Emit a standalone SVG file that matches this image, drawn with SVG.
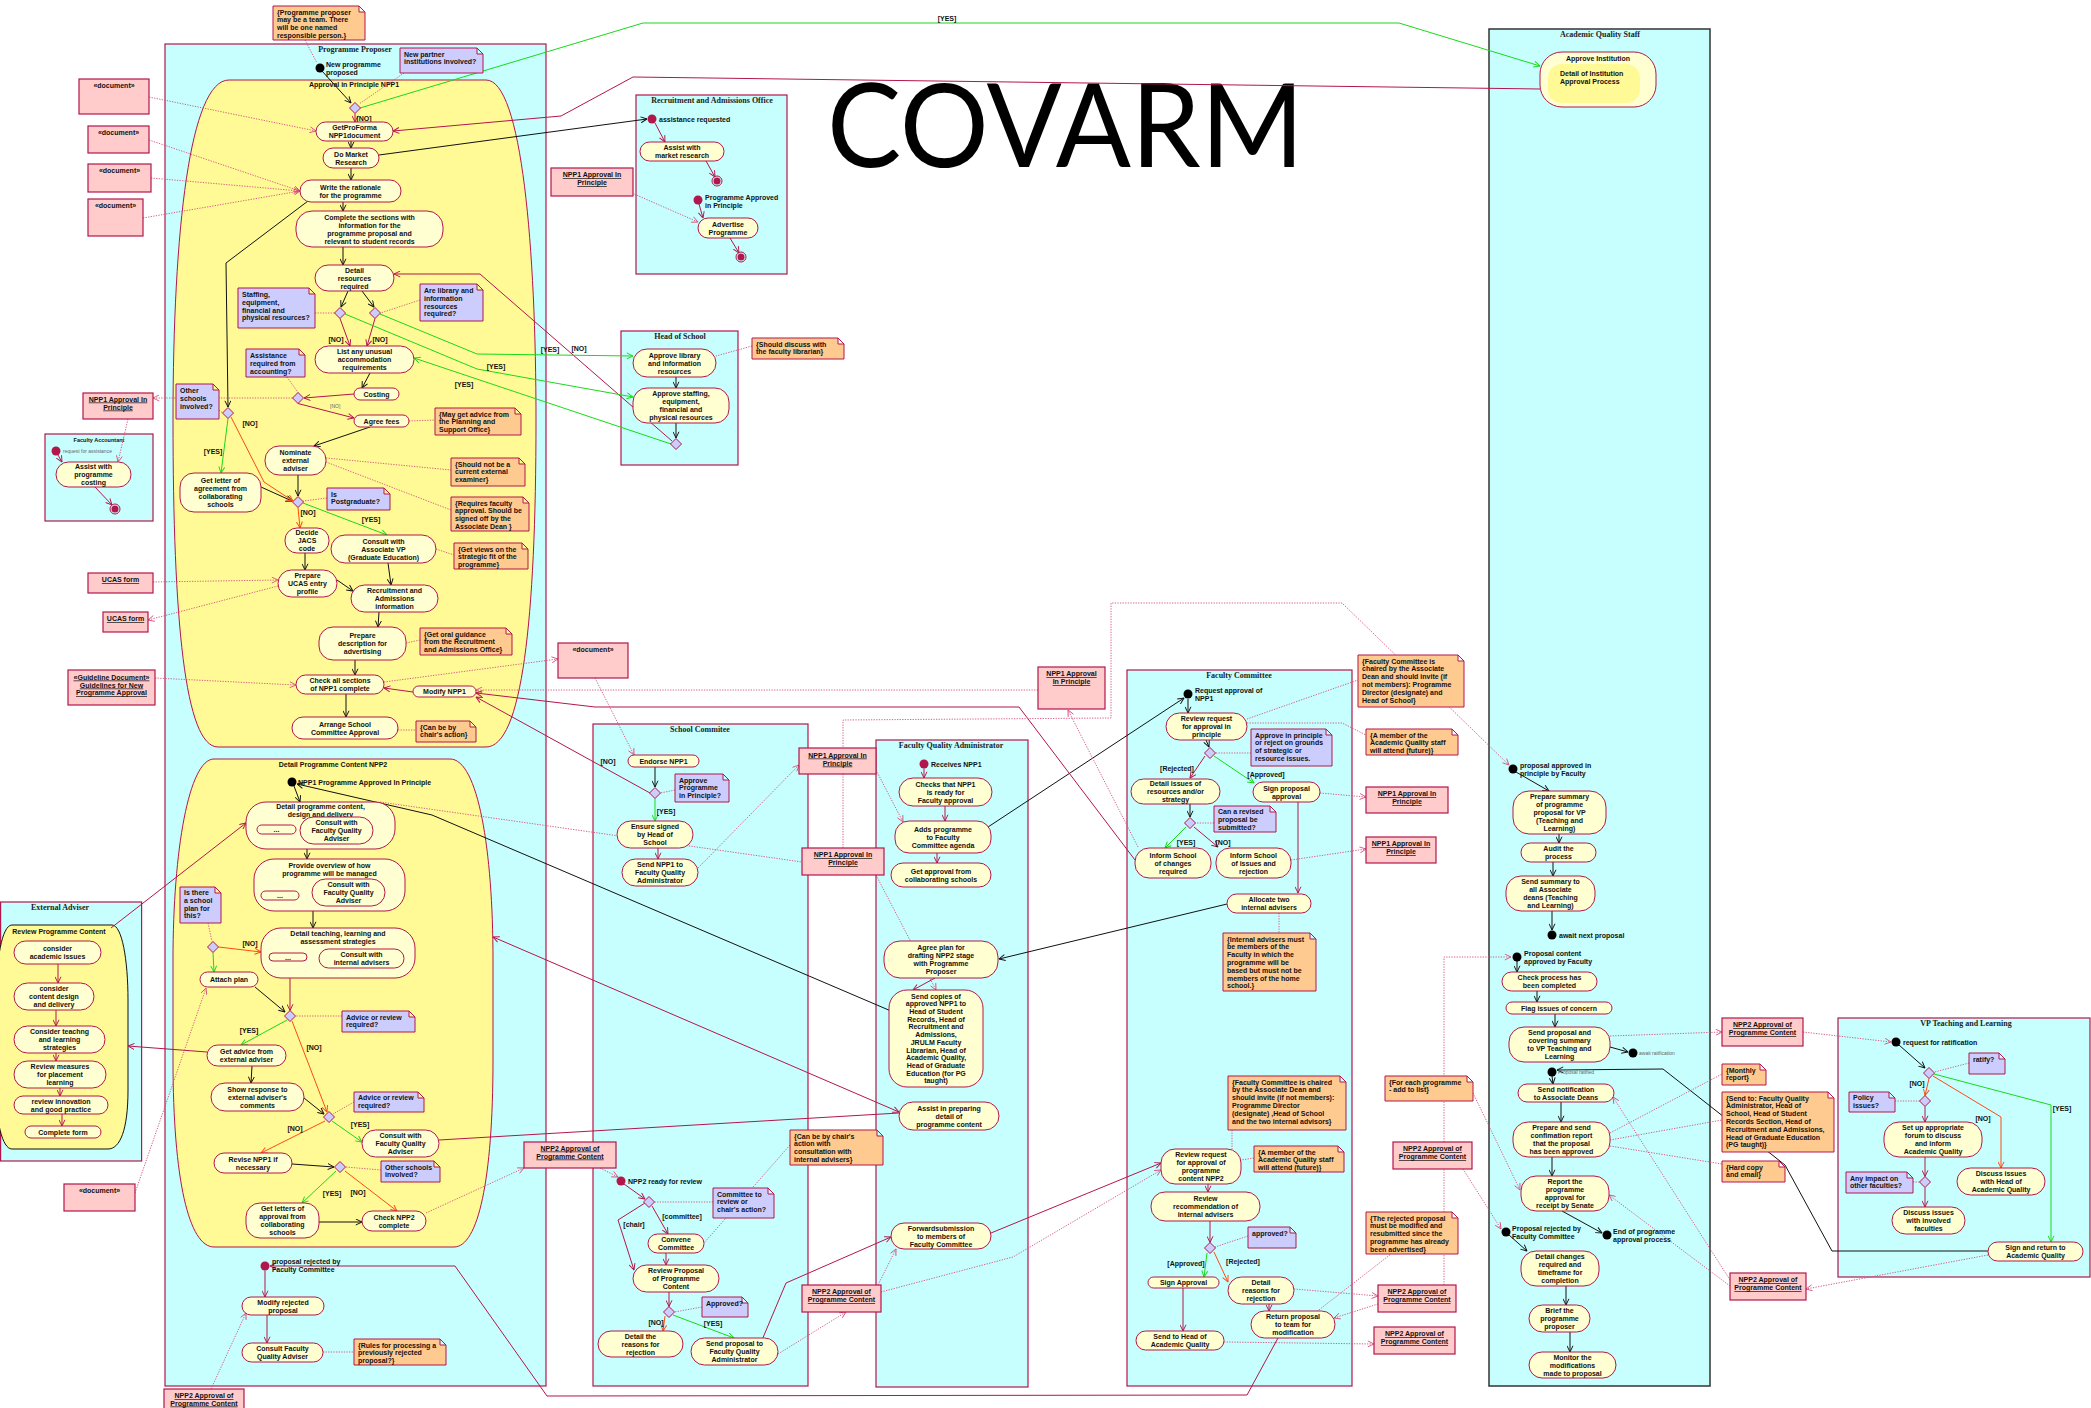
<svg xmlns="http://www.w3.org/2000/svg" width="2091" height="1408" viewBox="0 0 2091 1408">
<defs>
<style>
.lane{fill:#c6fffe;stroke:#b3164b;stroke-width:1.2}
.aqs{fill:#c6fffe;stroke:#333;stroke-width:1.5}
.a{fill:#ffffd2;stroke:#b3164b;stroke-width:1}
.reg{fill:#fffa96;stroke:#b3164b;stroke-width:1}
.no{fill:#ffca90;stroke:#b3164b;stroke-width:1}
.np{fill:#cdcdfd;stroke:#b3164b;stroke-width:1}
.ob{fill:#ffcbcb;stroke:#b3164b;stroke-width:1.2}
.t{font-family:"Liberation Sans",Arial,sans-serif;font-weight:bold;font-size:7px;fill:#111;text-anchor:middle}
.tl{font-family:"Liberation Sans",Arial,sans-serif;font-weight:bold;font-size:7px;fill:#111;text-anchor:start}
.u{text-decoration:underline}
.lt{font-family:"Liberation Serif","Times New Roman",serif;font-weight:bold;font-size:8px;fill:#222;text-anchor:middle}
.sm{font-family:"Liberation Sans",Arial,sans-serif;font-size:5px;fill:#666}
.ln{fill:none;stroke-width:1}
.k{stroke:#111;marker-end:url(#mk)}
.r{stroke:#b3164b;marker-end:url(#mr)}
.g{stroke:#19d919;marker-end:url(#mg)}
.o{stroke:#ff4a12;marker-end:url(#mo)}
.d{stroke:#d4507c;stroke-dasharray:1.3 1.3;stroke-width:0.9;marker-end:url(#md)}
.nm{marker-end:none}
.ini{fill:#000}
.inr{fill:#b3164b}
</style>
<marker id="mk" viewBox="0 0 8 8" refX="7.6" refY="4" markerWidth="7" markerHeight="7" markerUnits="userSpaceOnUse" orient="auto-start-reverse"><path d="M0.5,0.6L7.6,4L0.5,7.4" fill="none" stroke="#111" stroke-width="1.1"/></marker>
<marker id="mr" viewBox="0 0 8 8" refX="7.6" refY="4" markerWidth="7" markerHeight="7" markerUnits="userSpaceOnUse" orient="auto-start-reverse"><path d="M0.5,0.6L7.6,4L0.5,7.4" fill="none" stroke="#b3164b" stroke-width="1.1"/></marker>
<marker id="mg" viewBox="0 0 8 8" refX="7.6" refY="4" markerWidth="7" markerHeight="7" markerUnits="userSpaceOnUse" orient="auto-start-reverse"><path d="M0.5,0.6L7.6,4L0.5,7.4" fill="none" stroke="#19d919" stroke-width="1.1"/></marker>
<marker id="mo" viewBox="0 0 8 8" refX="7.6" refY="4" markerWidth="7" markerHeight="7" markerUnits="userSpaceOnUse" orient="auto-start-reverse"><path d="M0.5,0.6L7.6,4L0.5,7.4" fill="none" stroke="#ff4a12" stroke-width="1.1"/></marker>
<marker id="md" viewBox="0 0 8 8" refX="7.6" refY="4" markerWidth="7" markerHeight="7" markerUnits="userSpaceOnUse" orient="auto-start-reverse"><path d="M0.5,0.6L7.6,4L0.5,7.4" fill="none" stroke="#d4507c" stroke-width="1"/></marker>
<path id="dia" d="M0,-5.5L5.5,0L0,5.5L-5.5,0Z" fill="#cdcdfd" stroke="#b3164b" stroke-width="1"/>
<g id="fin"><circle r="5" fill="none" stroke="#b3164b" stroke-width="1"/><circle r="3.5" fill="#b3164b"/></g>
</defs>
<rect width="2091" height="1408" fill="#fff"/>

<g id="lanes">
<rect class="lane" x="165" y="44" width="381" height="1342"/>
<text class="lt" x="355" y="52">Programme Proposer</text>
<path class="reg" d="M229,80H486C522,80 536,250 536,420C536,620 522,747 486,747H218C185,747 173,620 173,420C173,230 190,80 229,80Z"/>
<text class="t" x="354" y="86.5">Approval in Principle NPP1</text>
<path class="reg" d="M214,759H450C478,759 493,850 493,960V1060C493,1180 478,1247 454,1247H214C189,1247 173,1180 173,1060V960C173,850 189,759 214,759Z"/>
<text class="t" x="333" y="766.5">Detail Programme Content NPP2</text>
<rect class="lane" x="45" y="434" width="108" height="87"/>
<text class="t" x="99" y="442" style="font-size:5.5px">Faculty Accountant</text>
<rect class="lane" x="636" y="95" width="151" height="179"/>
<text class="lt" x="712" y="103">Recruitment and Admissions Office</text>
<rect class="lane" x="621" y="331" width="117" height="134"/>
<text class="lt" x="680" y="339">Head of School</text>
<rect class="aqs" x="1489" y="29" width="221" height="1357"/>
<text class="lt" x="1600" y="37">Academic Quality Staff</text>
<rect class="lane" x="0.6" y="902" width="141" height="259"/>
<text class="lt" x="60" y="910">External Adviser</text>
<path d="M12,925H112C122,925 128,960 128,1000V1090C128,1130 120,1149 108,1149H12C2,1149 -4,1120 -4,1090V1000C-4,960 2,925 12,925Z" fill="#fffa96" stroke="#111" stroke-width="1"/>
<text class="t" x="59" y="934">Review Programme Content</text>
<rect class="lane" x="593" y="724" width="215" height="662"/>
<text class="lt" x="700" y="732">School Commitee</text>
<rect class="lane" x="876" y="740" width="152" height="647"/>
<text class="lt" x="951" y="748">Faculty Quality Administrator</text>
<rect class="lane" x="1127" y="670" width="225" height="716"/>
<text class="lt" x="1239" y="678">Faculty Committee</text>
<rect class="lane" x="1838" y="1018" width="252" height="259"/>
<text class="lt" x="1966" y="1026">VP Teaching and Learning</text>
</g>

<text x="827" y="167" font-family="Lato,'Open Sans','DejaVu Sans',sans-serif" font-size="117" textLength="477" lengthAdjust="spacingAndGlyphs" fill="#000">COVARM</text>

<g id="connectors">
<path class="ln k" d="M322,71L351,103"/>
<path class="ln k" d="M351,141L351,148"/>
<path class="ln k" d="M379,155L647,119"/>
<path class="ln k" d="M351,168L351,180"/>
<path class="ln k" d="M343,202L343,211"/>
<path class="ln k" d="M343,247L343,265"/>
<path class="ln k" d="M348,291L341,307"/>
<path class="ln k" d="M362,291L374,307"/>
<path class="ln k" d="M370,373L362,388"/>
<path class="ln k" d="M308,201L226,263L228,407"/>
<path class="ln k" d="M370,427L314,446"/>
<path class="ln k" d="M298,475L298,496"/>
<path class="ln k" d="M261,487L292,501"/>
<path class="ln k" d="M305,553L305,570"/>
<path class="ln k" d="M388,563L391,585"/>
<path class="ln k" d="M337,580L353,591"/>
<path class="ln k" d="M379,612L378,627"/>
<path class="ln k" d="M355,660L355,675"/>
<path class="ln k" d="M346,694L346,717"/>
<path class="ln k" d="M676,377L676,388"/>
<path class="ln k" d="M676,423L676,438"/>
<path class="ln k" d="M655,767L655,787"/>
<path class="ln k" d="M988,827L1184,698"/>
<path class="ln k" d="M1227,904L999,959"/>
<path class="ln k" d="M891,1011L432,815L297,784"/>
<path class="ln k" d="M1188,699L1188,713"/>
<path class="ln k" d="M1206,740L1209,747"/>
<path class="ln k" d="M1190,804L1190,817"/>
<path class="ln k" d="M294,786L300,802"/>
<path class="ln k" d="M307,849L307,859"/>
<path class="ln k" d="M313,911L313,928"/>
<path class="ln k" d="M255,987L285,1012"/>
<path class="ln k" d="M252,1066L251,1083"/>
<path class="ln k" d="M304,1098L324,1114"/>
<path class="ln k" d="M292,1164L334,1167"/>
<path class="ln k" d="M319,1222L362,1222"/>
<path class="ln k" d="M1516,772L1549,791"/>
<path class="ln k" d="M1559,834L1559,843"/>
<path class="ln k" d="M1553,862L1553,876"/>
<path class="ln k" d="M1552,911L1552,930"/>
<path class="ln k" d="M1517,961L1517,972"/>
<path class="ln k" d="M1537,991L1537,1002"/>
<path class="ln k" d="M1555,1014L1555,1027"/>
<path class="ln k" d="M1610,1047L1628,1052"/>
<path class="ln k" d="M1552,1076L1553,1084"/>
<path class="ln k" d="M1561,1102L1561,1122"/>
<path class="ln k" d="M1552,1157L1552,1176"/>
<path class="ln k" d="M1562,1211L1602,1233"/>
<path class="ln k" d="M1509,1235L1527,1251"/>
<path class="ln k" d="M1566,1286L1566,1305"/>
<path class="ln k" d="M1570,1332L1570,1352"/>
<path class="ln k" d="M1899,1045L1925,1068"/>
<path class="ln k" d="M1988,1251L1832,1251L1785,1165L1663,1069L1557,1070"/>

<path class="ln r" d="M355,113.5L355,122"/>
<path class="ln r" d="M1540,89L633,77L561,116L393,131"/>
<path class="ln r" d="M340,318.5L350,346"/>
<path class="ln r" d="M375,318.5L367,346"/>
<path class="ln r" d="M672,441L480,274L394,274"/>
<path class="ln r" d="M354,394L304,398"/>
<path class="ln r" d="M298,403.5L354,418"/>
<path class="ln r" d="M1135,860L1019,707L595,707L476,693"/>
<path class="ln r" d="M650,793L476,697"/>
<path class="ln r" d="M413,692L384,688"/>
<path class="ln r" d="M58,455L62,462"/>
<path class="ln r" d="M95,487L112,505"/>
<path class="ln r" d="M655,123L665,142"/>
<path class="ln r" d="M706,161L715,177"/>
<path class="ln r" d="M699,204L703,218"/>
<path class="ln r" d="M730,238L739,253"/>
<path class="ln r" d="M658,848L658,859"/>
<path class="ln r" d="M624,1184L645,1199"/>
<path class="ln r" d="M652,1206L668,1234"/>
<path class="ln r" d="M645,1203L618,1220L634,1270"/>
<path class="ln r" d="M666,1253L666,1265"/>
<path class="ln r" d="M669,1292L669,1306.5"/>
<path class="ln r" d="M762,1340L786,1283L891,1237"/>
<path class="ln r" d="M991,1233L1161,1163"/>
<path class="ln r" d="M924,768.5L924,778"/>
<path class="ln r" d="M945,806L945,821"/>
<path class="ln r" d="M937,853L937,863"/>
<path class="ln r" d="M935,978L913,990"/>
<path class="ln r nm" d="M899,1113L439,1140"/>
<path class="ln r" style="marker-start:url(#mr)" d="M493,937L899,1112"/>
<path class="ln r" d="M1205,756L1190,778"/>
<path class="ln r" d="M1194,827L1218,847"/>
<path class="ln r" d="M1298,802L1298,893"/>
<path class="ln r" d="M1208,1184L1208,1192"/>
<path class="ln r" d="M1210,1221L1210,1242.5"/>
<path class="ln r" d="M1183,1288L1183,1331"/>
<path class="ln r" d="M1269,1304L1269,1311"/>
<path class="ln r" d="M1278,1338L1247,1395L547,1396L455,1266L270,1266"/>
<path class="ln r" d="M207,1052L128,1046"/>
<path class="ln r" d="M290,978L290,1010.5"/>
<path class="ln r" d="M111,928L246,823"/>
<path class="ln r" d="M265,1270.5L265,1297"/>
<path class="ln r" d="M267,1315L267,1343"/>
<path class="ln r" d="M58,964L58,983"/>
<path class="ln r" d="M56,1010L56,1026"/>
<path class="ln r" d="M56,1053L56,1061"/>
<path class="ln r" d="M60,1088L60,1096"/>
<path class="ln r" d="M62,1114L62,1126"/>
<path class="ln r" d="M1925,1106.5L1925,1122"/>
<path class="ln r" d="M1925,1157L1925,1176.5"/>
<path class="ln r" d="M1925,1187.5L1925,1207"/>

<path class="ln g" d="M360,108L643,23L1399,23L1540,66"/>
<path class="ln g" d="M380,314L477,354L633,356"/>
<path class="ln g" d="M345,314L477,369L633,397"/>
<path class="ln g" d="M671,444L414,358"/>
<path class="ln g" d="M228,418.5L221,473"/>
<path class="ln g" d="M303,503L387,535"/>
<path class="ln g" d="M655,798.5L655,821"/>
<path class="ln g" d="M673,1315L734,1338"/>
<path class="ln g" d="M1214,756L1254,783"/>
<path class="ln g" d="M1186,827L1165,848"/>
<path class="ln g" d="M1207,1253L1204,1277"/>
<path class="ln g" d="M213,952.5L214,972"/>
<path class="ln g" d="M287,1020L241,1045"/>
<path class="ln g" d="M332,1121L362,1142"/>
<path class="ln g" d="M336,1171L302,1203"/>
<path class="ln g" d="M1934,1074L2051,1105L2051,1242"/>

<path class="ln o" d="M231,417L264,482L293,501"/>
<path class="ln o" d="M298,507.5L300,528"/>
<path class="ln o" d="M218.5,947L261,952"/>
<path class="ln o" d="M292,1021L327,1112"/>
<path class="ln o" d="M325,1121L261,1153"/>
<path class="ln o" d="M345,1171L397,1211"/>
<path class="ln o" d="M665,1316L663,1331"/>
<path class="ln o" d="M1214,1252L1228,1282"/>
<path class="ln o" d="M1929,1078.5L1925,1095.5"/>
<path class="ln o" d="M1933,1076L2001,1117L2001,1168"/>

<path class="ln d" d="M149,97L316,131"/>
<path class="ln d" d="M149,140L300,191"/>
<path class="ln d" d="M151,178L300,191"/>
<path class="ln d" d="M143,218L300,191"/>
<path class="ln d nm" d="M305,40L317,63"/>
<path class="ln d nm" d="M404,73L359,104"/>
<path class="ln d nm" d="M315,313L334.5,313"/>
<path class="ln d nm" d="M420,300L380.5,313"/>
<path class="ln d nm" d="M287,377L298,392.5"/>
<path class="ln d" d="M292.5,398L153,398"/>
<path class="ln d" d="M128,419L118,462"/>
<path class="ln d nm" d="M219,410L222.5,413"/>
<path class="ln d nm" d="M409,421L435,420"/>
<path class="ln d nm" d="M326,458L451,470"/>
<path class="ln d nm" d="M326,462L451,510"/>
<path class="ln d nm" d="M327,498L303,501"/>
<path class="ln d nm" d="M436,549L454,555"/>
<path class="ln d" d="M153,582L278,580"/>
<path class="ln d" d="M278,586L148,620"/>
<path class="ln d" d="M155,678L296,685"/>
<path class="ln d" d="M384,682L558,659"/>
<path class="ln d" d="M1038,690L476,690"/>
<path class="ln d nm" d="M406,643L420,640"/>
<path class="ln d nm" d="M398,730L416,730"/>
<path class="ln d" d="M625,190L698,222"/>
<path class="ln d nm" d="M752,346L716,356"/>
<path class="ln d" d="M595,678L634,755"/>
<path class="ln d nm" d="M675,790L660.5,793"/>
<path class="ln d" d="M698,868L799,765"/>
<path class="ln d nm" d="M380,802L802,862"/>
<path class="ln d" d="M876,770L903,822"/>
<path class="ln d" d="M843,848L843,720L1111,718L1111,603L1342,603L1509,765"/>
<path class="ln d" d="M876,875L936,990"/>
<path class="ln d" d="M1138,847L1068,710"/>
<path class="ln d nm" d="M1247,719L1358,680"/>
<path class="ln d nm" d="M1247,723L1342,723L1366,735"/>
<path class="ln d nm" d="M1251,753L1215.5,753"/>
<path class="ln d nm" d="M1214,823L1195.5,823"/>
<path class="ln d" d="M1320,793L1366,797"/>
<path class="ln d" d="M1291,860L1366,849"/>
<path class="ln d nm" d="M1279,913L1279,933"/>
<path class="ln d nm" d="M1232,1130L1232,1149"/>
<path class="ln d nm" d="M1254,1158L1241,1160"/>
<path class="ln d nm" d="M1248,1236L1215,1247"/>
<path class="ln d" d="M1294,1289L1378,1296"/>
<path class="ln d" d="M1378,1304L1334,1318"/>
<path class="ln d" d="M1224,1342L1374,1344"/>
<path class="ln d nm" d="M1315,1313L1391,1254"/>
<path class="ln d" d="M1463,1169L1501,1229"/>
<path class="ln d" d="M1473,1093L1520,1190"/>
<path class="ln d" d="M1444,1285L1444,957L1511,957"/>
<path class="ln d" d="M1610,1036L1722,1032"/>
<path class="ln d" d="M1803,1032L1891,1042"/>
<path class="ln d nm" d="M1610,1133L1722,1074"/>
<path class="ln d nm" d="M1610,1140L1722,1120"/>
<path class="ln d nm" d="M1610,1146L1722,1164"/>
<path class="ln d" d="M1730,1280L1613,1097"/>
<path class="ln d" d="M1730,1286L1609,1195"/>
<path class="ln d" d="M1988,1255L1806,1289"/>
<path class="ln d nm" d="M1969,1063L1934.5,1072"/>
<path class="ln d nm" d="M1895,1101L1919.5,1101"/>
<path class="ln d nm" d="M1913,1182L1919.5,1182"/>
<path class="ln d nm" d="M208,923L212,941.5"/>
<path class="ln d nm" d="M342,1016L295.5,1016"/>
<path class="ln d nm" d="M354,1102L333,1114"/>
<path class="ln d nm" d="M381,1170L345.5,1167"/>
<path class="ln d" d="M426,1213L524,1168"/>
<path class="ln d" d="M135,1193L206,988"/>
<path class="ln d" d="M211,1389L246,1313"/>
<path class="ln d nm" d="M323,1352L354,1352"/>
<path class="ln d" d="M600,1168L618,1177"/>
<path class="ln d nm" d="M713,1202L654.5,1202"/>
<path class="ln d nm" d="M790,1145L704,1243"/>
<path class="ln d nm" d="M702,1307L674.5,1312"/>
<path class="ln d" d="M778,1354L846,1312"/>
<path class="ln d" d="M878,1285L896,1249"/>
<path class="ln d" d="M881,1292L1013,1257L1161,1170"/>

<g id="guards">
<text class="t" x="947" y="20.5">[YES]</text>
<text class="t" x="364" y="120.5">[NO]</text>
<text class="t" x="336" y="341.5">[NO]</text>
<text class="t" x="380" y="341.5">[NO]</text>
<text class="t" x="550" y="351.5">[YES]</text>
<text class="t" x="496" y="368.5">[YES]</text>
<text class="t" x="464" y="386.5">[YES]</text>
<text class="t" x="579" y="350.5">[NO]</text>
<text class="sm" x="330" y="408">[NO]</text>
<text class="t" x="250" y="425.5">[NO]</text>
<text class="t" x="213" y="453.5">[YES]</text>
<text class="t" x="308" y="514.5">[NO]</text>
<text class="t" x="371" y="521.5">[YES]</text>
<text class="t" x="608" y="763.5">[NO]</text>
<text class="t" x="666" y="813.5">[YES]</text>
<text class="t" x="1177" y="770.5">[Rejected]</text>
<text class="t" x="1266" y="776.5">[Approved]</text>
<text class="t" x="1186" y="844.5">[YES]</text>
<text class="t" x="1223" y="844.5">[NO]</text>
<text class="t" x="682" y="1218.5">[committee]</text>
<text class="t" x="634" y="1226.5">[chair]</text>
<text class="t" x="656" y="1324.5">[NO]</text>
<text class="t" x="713" y="1325.5">[YES]</text>
<text class="t" x="1186" y="1265.5">[Approved]</text>
<text class="t" x="1243" y="1263.5">[Rejected]</text>
<text class="t" x="250" y="945.5">[NO]</text>
<text class="t" x="249" y="1032.5">[YES]</text>
<text class="t" x="314" y="1049.5">[NO]</text>
<text class="t" x="360" y="1126.5">[YES]</text>
<text class="t" x="295" y="1130.5">[NO]</text>
<text class="t" x="332" y="1195.5">[YES]</text>
<text class="t" x="358" y="1194.5">[NO]</text>
<text class="t" x="1917" y="1085.5">[NO]</text>
<text class="t" x="2062" y="1110.5">[YES]</text>
<text class="t" x="1983" y="1120.5">[NO]</text>
</g>
</g>

<g id="pseudo">
<circle class="ini" cx="320" cy="68" r="4.5"/><text class="tl" x="326" y="66.5">New programme<tspan x="326" dy="8">proposed</tspan></text>
<circle class="ini" cx="292" cy="782" r="4.5"/><text class="tl" x="298" y="785">NPP1 Programme Approved In Principle</text>
<circle class="ini" cx="1188" cy="694" r="4.5"/><text class="tl" x="1195" y="692.5">Request approval of<tspan x="1195" dy="8">NPP1</tspan></text>
<circle class="ini" cx="1513" cy="769" r="4.5"/><text class="tl" x="1520" y="767.5">proposal approved in<tspan x="1520" dy="8">principle by Faculty</tspan></text>
<circle class="ini" cx="1552" cy="935" r="4.5"/><text class="tl" x="1559" y="937.5">await next proposal</text>
<circle class="ini" cx="1517" cy="957" r="4.5"/><text class="tl" x="1524" y="955.5">Proposal content<tspan x="1524" dy="8">approved by Faculty</tspan></text>
<circle class="ini" cx="1633" cy="1053" r="4.5"/><text class="sm" x="1639" y="1055">await ratification</text>
<circle class="ini" cx="1552" cy="1072" r="4.5"/><text class="sm" x="1558" y="1074">Proposal ratified</text>
<circle class="ini" cx="1607" cy="1235" r="4.5"/><text class="tl" x="1613" y="1233.5">End of programme<tspan x="1613" dy="8">approval process</tspan></text>
<circle class="ini" cx="1506" cy="1232" r="4.5"/><text class="tl" x="1512" y="1230.5">Proposal rejected by<tspan x="1512" dy="8">Faculty Committee</tspan></text>
<circle class="ini" cx="1896" cy="1042" r="4.5"/><text class="tl" x="1903" y="1044.5">request for ratification</text>
<circle class="inr" cx="56" cy="451" r="4.5"/><text class="sm" x="63" y="453">request for assistance</text>
<circle class="inr" cx="652" cy="119" r="4.5"/><text class="tl" x="659" y="121.5">assistance requested</text>
<circle class="inr" cx="698" cy="200" r="4.5"/><text class="tl" x="705" y="199.5">Programme Approved<tspan x="705" dy="8">in Principle</tspan></text>
<circle class="inr" cx="924" cy="764" r="4.5"/><text class="tl" x="931" y="766.5">Receives NPP1</text>
<circle class="inr" cx="621" cy="1181" r="4.5"/><text class="tl" x="628" y="1183.5">NPP2 ready for review</text>
<circle class="inr" cx="265" cy="1266" r="4.5"/><text class="tl" x="272" y="1264">proposal rejected by<tspan x="272" dy="7.5">Faculty Committee</tspan></text>
<use href="#fin" x="115" y="509"/>
<use href="#fin" x="717" y="181"/>
<use href="#fin" x="741" y="257"/>
<use href="#dia" x="355" y="108"/><use href="#dia" x="340" y="313"/><use href="#dia" x="375" y="313"/><use href="#dia" x="298" y="398"/><use href="#dia" x="228" y="413"/><use href="#dia" x="298" y="502"/>
<use href="#dia" x="676" y="444"/><use href="#dia" x="655" y="793"/><use href="#dia" x="649" y="1202"/><use href="#dia" x="669" y="1312"/>
<use href="#dia" x="1210" y="753"/><use href="#dia" x="1190" y="823"/><use href="#dia" x="1210" y="1248"/>
<use href="#dia" x="213" y="947"/><use href="#dia" x="290" y="1016"/><use href="#dia" x="329" y="1117"/><use href="#dia" x="340" y="1167"/>
<use href="#dia" x="1929" y="1073"/><use href="#dia" x="1925" y="1101"/><use href="#dia" x="1925" y="1182"/>
</g>

<g id="n-getproforma"><rect class="a" x="316" y="122" width="77" height="19" rx="9.5"/><text class="t" x="354.5" y="130">GetProForma<tspan x="354.5" dy="8">NPP1document</tspan></text></g>
<g id="n-market"><rect class="a" x="323" y="148" width="56" height="20" rx="10"/><text class="t" x="351" y="156.5">Do Market<tspan x="351" dy="8">Research</tspan></text></g>
<g id="n-rationale"><rect class="a" x="300" y="180" width="101" height="22" rx="11"/><text class="t" x="350.5" y="189.5">Write the rationale<tspan x="350.5" dy="8">for the programme</tspan></text></g>
<g id="n-complete"><rect class="a" x="296" y="211" width="147" height="36" rx="16"/><text class="t" x="369.5" y="219.5">Complete the sections with<tspan x="369.5" dy="8">information for the</tspan><tspan x="369.5" dy="8">programme proposal and</tspan><tspan x="369.5" dy="8">relevant to student records</tspan></text></g>
<g id="n-resources"><rect class="a" x="315" y="265" width="79" height="26" rx="13"/><text class="t" x="354.5" y="272.5">Detail<tspan x="354.5" dy="8">resources</tspan><tspan x="354.5" dy="8">required</tspan></text></g>
<g id="n-listacc"><rect class="a" x="315" y="346" width="99" height="27" rx="13.5"/><text class="t" x="364.5" y="354">List any unusual<tspan x="364.5" dy="8">accommodation</tspan><tspan x="364.5" dy="8">requirements</tspan></text></g>
<g id="n-costing"><rect class="a" x="354" y="388" width="45" height="12" rx="6"/><text class="t" x="376.5" y="396.5">Costing</text></g>
<g id="n-agreefees"><rect class="a" x="354" y="415" width="55" height="12" rx="6"/><text class="t" x="381.5" y="423.5">Agree fees</text></g>
<g id="n-nominate"><rect class="a" x="265" y="446" width="61" height="29" rx="14"/><text class="t" x="295.5" y="455">Nominate<tspan x="295.5" dy="8">external</tspan><tspan x="295.5" dy="8">adviser</tspan></text></g>
<g id="n-getletter"><rect class="a" x="180" y="473" width="81" height="39" rx="14"/><text class="t" x="220.5" y="483">Get letter of<tspan x="220.5" dy="8">agreement from</tspan><tspan x="220.5" dy="8">collaborating</tspan><tspan x="220.5" dy="8">schools</tspan></text></g>
<g id="n-jacs"><rect class="a" x="285" y="528" width="44" height="25" rx="12"/><text class="t" x="307" y="535">Decide<tspan x="307" dy="8">JACS</tspan><tspan x="307" dy="8">code</tspan></text></g>
<g id="n-consultvp"><rect class="a" x="331" y="535" width="105" height="28" rx="14"/><text class="t" x="383.5" y="543.5">Consult with<tspan x="383.5" dy="8">Associate VP</tspan><tspan x="383.5" dy="8">(Graduate Education)</tspan></text></g>
<g id="n-ucas"><rect class="a" x="278" y="570" width="59" height="27" rx="13.5"/><text class="t" x="307.5" y="578">Prepare<tspan x="307.5" dy="8">UCAS entry</tspan><tspan x="307.5" dy="8">profile</tspan></text></g>
<g id="n-recadm"><rect class="a" x="351" y="585" width="87" height="27" rx="13.5"/><text class="t" x="394.5" y="593">Recruitment and<tspan x="394.5" dy="8">Admissions</tspan><tspan x="394.5" dy="8">information</tspan></text></g>
<g id="n-prepdesc"><rect class="a" x="319" y="627" width="87" height="33" rx="14"/><text class="t" x="362.5" y="638">Prepare<tspan x="362.5" dy="8">description for</tspan><tspan x="362.5" dy="8">advertising</tspan></text></g>
<g id="n-checkall"><rect class="a" x="296" y="675" width="88" height="19" rx="9.5"/><text class="t" x="340" y="683">Check all sections<tspan x="340" dy="8">of NPP1 complete</tspan></text></g>
<g id="n-modify"><rect class="a" x="413" y="686" width="63" height="11" rx="5.5"/><text class="t" x="444.5" y="694">Modify NPP1</text></g>
<g id="n-arrange"><rect class="a" x="292" y="717" width="106" height="22" rx="11"/><text class="t" x="345" y="726.5">Arrange School<tspan x="345" dy="8">Committee Approval</tspan></text></g>

<g id="n-assistcost"><rect class="a" x="56" y="462" width="75" height="25" rx="12.5"/><text class="t" x="93.5" y="469">Assist with<tspan x="93.5" dy="8">programme</tspan><tspan x="93.5" dy="8">costing</tspan></text></g>
<g id="n-assistmr"><rect class="a" x="640" y="142" width="84" height="19" rx="9.5"/><text class="t" x="682" y="150">Assist with<tspan x="682" dy="8">market research</tspan></text></g>
<g id="n-advertise"><rect class="a" x="698" y="218" width="60" height="20" rx="10"/><text class="t" x="728" y="226.5">Advertise<tspan x="728" dy="8">Programme</tspan></text></g>
<g id="n-applib"><rect class="a" x="633" y="349" width="83" height="28" rx="14"/><text class="t" x="674.5" y="357.5">Approve library<tspan x="674.5" dy="8">and information</tspan><tspan x="674.5" dy="8">resources</tspan></text></g>
<g id="n-appstaff"><rect class="a" x="633" y="388" width="96" height="35" rx="14"/><text class="t" x="681" y="396">Approve staffing,<tspan x="681" dy="8">equipment,</tspan><tspan x="681" dy="8">financial and</tspan><tspan x="681" dy="8">physical resources</tspan></text></g>
<g id="n-approveinst"><rect class="a" x="1540" y="52" width="116" height="55" rx="22"/><text class="t" x="1598" y="61">Approve Institution</text><rect x="1548" y="64" width="92" height="39" rx="14" fill="#fffa96"/><text class="tl" x="1560" y="76">Detail of Institution<tspan x="1560" dy="8">Approval Process</tspan></text></g>

<g id="n-detprog"><rect class="a" x="246" y="802" width="149" height="47" rx="20"/><text class="t" x="320.5" y="809">Detail programme content,<tspan x="320.5" dy="8">design and delivery</tspan></text><rect class="a" x="257" y="825" width="39" height="9" rx="4.5"/><text class="t" x="276.5" y="832">...</text><rect class="a" x="300" y="817" width="73" height="27" rx="13.5"/><text class="t" x="336.5" y="825">Consult with<tspan x="336.5" dy="8">Faculty Quality</tspan><tspan x="336.5" dy="8">Adviser</tspan></text></g>
<g id="n-overview"><rect class="a" x="254" y="859" width="151" height="52" rx="20"/><text class="t" x="329.5" y="867.5">Provide overview of how<tspan x="329.5" dy="8">programme will be managed</tspan></text><rect class="a" x="261" y="891" width="38" height="9" rx="4.5"/><text class="t" x="280" y="898">...</text><rect class="a" x="312" y="879" width="73" height="27" rx="13.5"/><text class="t" x="348.5" y="887">Consult with<tspan x="348.5" dy="8">Faculty Quality</tspan><tspan x="348.5" dy="8">Adviser</tspan></text></g>
<g id="n-teaching"><rect class="a" x="261" y="928" width="154" height="50" rx="20"/><text class="t" x="338" y="935.5">Detail teaching, learning and<tspan x="338" dy="8">assessment strategies</tspan></text><rect class="a" x="269" y="953" width="38" height="8" rx="4"/><text class="t" x="288" y="959.5">...</text><rect class="a" x="319" y="949" width="85" height="19" rx="9.5"/><text class="t" x="361.5" y="957">Consult with<tspan x="361.5" dy="8">internal advisers</tspan></text></g>
<g id="n-attach"><rect class="a" x="200" y="972" width="58" height="15" rx="7.5"/><text class="t" x="229" y="982">Attach plan</text></g>
<g id="n-getadvice"><rect class="a" x="207" y="1045" width="79" height="21" rx="10.5"/><text class="t" x="246.5" y="1054">Get advice from<tspan x="246.5" dy="8">external adviser</tspan></text></g>
<g id="n-showresp"><rect class="a" x="211" y="1083" width="93" height="28" rx="14"/><text class="t" x="257.5" y="1091.5">Show response to<tspan x="257.5" dy="8">external adviser's</tspan><tspan x="257.5" dy="8">comments</tspan></text></g>
<g id="n-consultfqa"><rect class="a" x="362" y="1130" width="77" height="27" rx="13.5"/><text class="t" x="400.5" y="1138">Consult with<tspan x="400.5" dy="8">Faculty Quality</tspan><tspan x="400.5" dy="8">Adviser</tspan></text></g>
<g id="n-revise"><rect class="a" x="214" y="1153" width="78" height="20" rx="10"/><text class="t" x="253" y="1161.5">Revise NPP1 if<tspan x="253" dy="8">necessary</tspan></text></g>
<g id="n-getletters"><rect class="a" x="246" y="1203" width="73" height="35" rx="14"/><text class="t" x="282.5" y="1211">Get letters of<tspan x="282.5" dy="8">approval from</tspan><tspan x="282.5" dy="8">collaborating</tspan><tspan x="282.5" dy="8">schools</tspan></text></g>
<g id="n-checknpp2"><rect class="a" x="362" y="1211" width="64" height="20" rx="10"/><text class="t" x="394" y="1219.5">Check NPP2<tspan x="394" dy="8">complete</tspan></text></g>
<g id="n-modrej"><rect class="a" x="242" y="1297" width="82" height="18" rx="9"/><text class="t" x="283" y="1304.5">Modify rejected<tspan x="283" dy="8">proposal</tspan></text></g>
<g id="n-consfqa2"><rect class="a" x="242" y="1343" width="81" height="19" rx="9.5"/><text class="t" x="282.5" y="1351">Consult Faculty<tspan x="282.5" dy="8">Quality Adviser</tspan></text></g>

<g id="n-ea1"><rect class="a" x="14" y="941" width="87" height="23" rx="11.5"/><text class="t" x="57.5" y="951">consider<tspan x="57.5" dy="8">academic issues</tspan></text></g>
<g id="n-ea2"><rect class="a" x="14" y="983" width="80" height="27" rx="13.5"/><text class="t" x="54" y="991">consider<tspan x="54" dy="8">content design</tspan><tspan x="54" dy="8">and delivery</tspan></text></g>
<g id="n-ea3"><rect class="a" x="14" y="1026" width="91" height="27" rx="13.5"/><text class="t" x="59.5" y="1034">Consider teachng<tspan x="59.5" dy="8">and learning</tspan><tspan x="59.5" dy="8">strategies</tspan></text></g>
<g id="n-ea4"><rect class="a" x="14" y="1061" width="92" height="27" rx="13.5"/><text class="t" x="60" y="1069">Review measures<tspan x="60" dy="8">for placement</tspan><tspan x="60" dy="8">learning</tspan></text></g>
<g id="n-ea5"><rect class="a" x="14" y="1096" width="94" height="18" rx="9"/><text class="t" x="61" y="1103.5">review innovation<tspan x="61" dy="8">and good practice</tspan></text></g>
<g id="n-ea6"><rect class="a" x="25" y="1126" width="76" height="12" rx="6"/><text class="t" x="63" y="1134.5">Complete form</text></g>

<g id="n-endorse"><rect class="a" x="628" y="755" width="71" height="12" rx="6"/><text class="t" x="663.5" y="763.5">Endorse NPP1</text></g>
<g id="n-ensure"><rect class="a" x="617" y="821" width="76" height="27" rx="13.5"/><text class="t" x="655" y="829">Ensure signed<tspan x="655" dy="8">by Head of</tspan><tspan x="655" dy="8">School</tspan></text></g>
<g id="n-sendnpp1"><rect class="a" x="622" y="859" width="76" height="27" rx="13.5"/><text class="t" x="660" y="867">Send NPP1 to<tspan x="660" dy="8">Faculty Quality</tspan><tspan x="660" dy="8">Administrator</tspan></text></g>
<g id="n-convene"><rect class="a" x="648" y="1234" width="56" height="19" rx="9.5"/><text class="t" x="676" y="1242">Convene<tspan x="676" dy="8">Committee</tspan></text></g>
<g id="n-reviewprop"><rect class="a" x="633" y="1265" width="86" height="27" rx="13.5"/><text class="t" x="676" y="1273">Review Proposal<tspan x="676" dy="8">of Programme</tspan><tspan x="676" dy="8">Content</tspan></text></g>
<g id="n-detailreasons"><rect class="a" x="598" y="1331" width="85" height="26" rx="13"/><text class="t" x="640.5" y="1338.5">Detail the<tspan x="640.5" dy="8">reasons for</tspan><tspan x="640.5" dy="8">rejection</tspan></text></g>
<g id="n-sendprop"><rect class="a" x="691" y="1338" width="87" height="27" rx="13.5"/><text class="t" x="734.5" y="1346">Send proposal to<tspan x="734.5" dy="8">Faculty Quality</tspan><tspan x="734.5" dy="8">Administrator</tspan></text></g>

<g id="n-checks"><rect class="a" x="899" y="778" width="93" height="28" rx="14"/><text class="t" x="945.5" y="786.5">Checks that NPP1<tspan x="945.5" dy="8">is ready for</tspan><tspan x="945.5" dy="8">Faculty approval</tspan></text></g>
<g id="n-adds"><rect class="a" x="895" y="821" width="96" height="32" rx="14"/><text class="t" x="943" y="831.5">Adds programme<tspan x="943" dy="8">to Faculty</tspan><tspan x="943" dy="8">Committee agenda</tspan></text></g>
<g id="n-getapproval"><rect class="a" x="891" y="863" width="100" height="24" rx="12"/><text class="t" x="941" y="873.5">Get approval from<tspan x="941" dy="8">collaborating schools</tspan></text></g>
<g id="n-agreeplan"><rect class="a" x="884" y="941" width="114" height="37" rx="16"/><text class="t" x="941" y="950">Agree plan for<tspan x="941" dy="8">drafting NPP2 stage</tspan><tspan x="941" dy="8">with Programme</tspan><tspan x="941" dy="8">Proposer</tspan></text></g>
<g id="n-sendcopies"><rect class="a" x="889" y="990" width="94" height="97" rx="18"/><text class="t" x="936" y="998.6">Send copies of<tspan x="936" dy="7.7">approved NPP1 to</tspan><tspan x="936" dy="7.7">Head of Student</tspan><tspan x="936" dy="7.7">Records, Head of</tspan><tspan x="936" dy="7.7">Recruitment and</tspan><tspan x="936" dy="7.7">Admissions,</tspan><tspan x="936" dy="7.7">JRULM Faculty</tspan><tspan x="936" dy="7.7">Librarian, Head of</tspan><tspan x="936" dy="7.7">Academic Quality,</tspan><tspan x="936" dy="7.7">Head of Graduate</tspan><tspan x="936" dy="7.7">Education (for PG</tspan><tspan x="936" dy="7.7">taught)</tspan></text></g>
<g id="n-assistprep"><rect class="a" x="899" y="1102" width="100" height="28" rx="14"/><text class="t" x="949" y="1110.5">Assist in preparing<tspan x="949" dy="8">detail of</tspan><tspan x="949" dy="8">programme content</tspan></text></g>
<g id="n-forward"><rect class="a" x="891" y="1223" width="100" height="26" rx="13"/><text class="t" x="941" y="1230.5">Forwardsubmission<tspan x="941" dy="8">to members of</tspan><tspan x="941" dy="8">Faculty Committee</tspan></text></g>

<g id="n-review"><rect class="a" x="1166" y="713" width="81" height="27" rx="13.5"/><text class="t" x="1206.5" y="721">Review request<tspan x="1206.5" dy="8">for approval in</tspan><tspan x="1206.5" dy="8">principle</tspan></text></g>
<g id="n-detailissues"><rect class="a" x="1131" y="779" width="89" height="25" rx="12.5"/><text class="t" x="1175.5" y="786">Detail issues of<tspan x="1175.5" dy="8">resources and/or</tspan><tspan x="1175.5" dy="8">strategy</tspan></text></g>
<g id="n-sign"><rect class="a" x="1253" y="782" width="67" height="20" rx="10"/><text class="t" x="1286.5" y="790.5">Sign proposal<tspan x="1286.5" dy="8">approval</tspan></text></g>
<g id="n-informchanges"><rect class="a" x="1135" y="848" width="76" height="30" rx="14"/><text class="t" x="1173" y="857.5">Inform School<tspan x="1173" dy="8">of changes</tspan><tspan x="1173" dy="8">required</tspan></text></g>
<g id="n-informissues"><rect class="a" x="1216" y="848" width="75" height="30" rx="14"/><text class="t" x="1253.5" y="857.5">Inform School<tspan x="1253.5" dy="8">of issues and</tspan><tspan x="1253.5" dy="8">rejection</tspan></text></g>
<g id="n-allocate"><rect class="a" x="1227" y="894" width="84" height="19" rx="9.5"/><text class="t" x="1269" y="902">Allocate two<tspan x="1269" dy="8">internal advisers</tspan></text></g>
<g id="n-reviewnpp2"><rect class="a" x="1161" y="1149" width="80" height="35" rx="14"/><text class="t" x="1201" y="1157">Review request<tspan x="1201" dy="8">for approval of</tspan><tspan x="1201" dy="8">programme</tspan><tspan x="1201" dy="8">content NPP2</tspan></text></g>
<g id="n-reviewrec"><rect class="a" x="1151" y="1192" width="109" height="29" rx="14"/><text class="t" x="1205.5" y="1201">Review<tspan x="1205.5" dy="8">recommendation of</tspan><tspan x="1205.5" dy="8">internal advisers</tspan></text></g>
<g id="n-signapproval"><rect class="a" x="1148" y="1277" width="71" height="11" rx="5.5"/><text class="t" x="1183.5" y="1285">Sign Approval</text></g>
<g id="n-detailreasons2"><rect class="a" x="1228" y="1277" width="66" height="27" rx="13.5"/><text class="t" x="1261" y="1285">Detail<tspan x="1261" dy="8">reasons for</tspan><tspan x="1261" dy="8">rejection</tspan></text></g>
<g id="n-returnprop"><rect class="a" x="1251" y="1311" width="84" height="27" rx="13.5"/><text class="t" x="1293" y="1319">Return proposal<tspan x="1293" dy="8">to team for</tspan><tspan x="1293" dy="8">modification</tspan></text></g>
<g id="n-sendhead"><rect class="a" x="1136" y="1331" width="88" height="19" rx="9.5"/><text class="t" x="1180" y="1339">Send to Head of<tspan x="1180" dy="8">Academic Quality</tspan></text></g>

<g id="n-prepsum"><rect class="a" x="1513" y="791" width="93" height="43" rx="16"/><text class="t" x="1559.5" y="799">Prepare summary<tspan x="1559.5" dy="8">of programme</tspan><tspan x="1559.5" dy="8">proposal for VP</tspan><tspan x="1559.5" dy="8">(Teaching and</tspan><tspan x="1559.5" dy="8">Learning)</tspan></text></g>
<g id="n-audit"><rect class="a" x="1521" y="843" width="75" height="19" rx="9.5"/><text class="t" x="1558.5" y="851">Audit the<tspan x="1558.5" dy="8">process</tspan></text></g>
<g id="n-sendsum"><rect class="a" x="1506" y="876" width="89" height="35" rx="15"/><text class="t" x="1550.5" y="884">Send summary to<tspan x="1550.5" dy="8">all Associate</tspan><tspan x="1550.5" dy="8">deans (Teaching</tspan><tspan x="1550.5" dy="8">and Learning)</tspan></text></g>
<g id="n-checkproc"><rect class="a" x="1502" y="972" width="95" height="19" rx="9.5"/><text class="t" x="1549.5" y="980">Check process has<tspan x="1549.5" dy="8">been completed</tspan></text></g>
<g id="n-flag"><rect class="a" x="1506" y="1002" width="106" height="12" rx="6"/><text class="t" x="1559" y="1010.5">Flag issues of concern</text></g>
<g id="n-sendcov"><rect class="a" x="1509" y="1027" width="101" height="35" rx="15"/><text class="t" x="1559.5" y="1035">Send proposal and<tspan x="1559.5" dy="8">covering summary</tspan><tspan x="1559.5" dy="8">to VP Teaching and</tspan><tspan x="1559.5" dy="8">Learning</tspan></text></g>
<g id="n-sendnotif"><rect class="a" x="1518" y="1084" width="96" height="18" rx="9"/><text class="t" x="1566" y="1091.5">Send notification<tspan x="1566" dy="8">to Associate Deans</tspan></text></g>
<g id="n-prepsend"><rect class="a" x="1513" y="1122" width="97" height="35" rx="15"/><text class="t" x="1561.5" y="1130">Prepare and send<tspan x="1561.5" dy="8">confimation report</tspan><tspan x="1561.5" dy="8">that the proposal</tspan><tspan x="1561.5" dy="8">has been approved</tspan></text></g>
<g id="n-report"><rect class="a" x="1521" y="1176" width="88" height="35" rx="15"/><text class="t" x="1565" y="1184">Report the<tspan x="1565" dy="8">programme</tspan><tspan x="1565" dy="8">approval for</tspan><tspan x="1565" dy="8">receipt by Senate</tspan></text></g>
<g id="n-detailchanges"><rect class="a" x="1521" y="1251" width="78" height="35" rx="15"/><text class="t" x="1560" y="1259">Detail changes<tspan x="1560" dy="8">required and</tspan><tspan x="1560" dy="8">timeframe for</tspan><tspan x="1560" dy="8">completion</tspan></text></g>
<g id="n-brief"><rect class="a" x="1529" y="1305" width="61" height="27" rx="13.5"/><text class="t" x="1559.5" y="1313">Brief the<tspan x="1559.5" dy="8">programme</tspan><tspan x="1559.5" dy="8">proposer</tspan></text></g>
<g id="n-monitor"><rect class="a" x="1529" y="1352" width="87" height="26" rx="13"/><text class="t" x="1572.5" y="1359.5">Monitor the<tspan x="1572.5" dy="8">modifications</tspan><tspan x="1572.5" dy="8">made to proposal</tspan></text></g>

<g id="n-setup"><rect class="a" x="1884" y="1122" width="98" height="35" rx="15"/><text class="t" x="1933" y="1130">Set up appropriate<tspan x="1933" dy="8">forum to discuss</tspan><tspan x="1933" dy="8">and inform</tspan><tspan x="1933" dy="8">Academic Quality</tspan></text></g>
<g id="n-discusshead"><rect class="a" x="1957" y="1168" width="88" height="27" rx="13.5"/><text class="t" x="2001" y="1176">Discuss issues<tspan x="2001" dy="8">with Head of</tspan><tspan x="2001" dy="8">Academic Quality</tspan></text></g>
<g id="n-discussinv"><rect class="a" x="1892" y="1207" width="73" height="27" rx="13.5"/><text class="t" x="1928.5" y="1215">Discuss issues<tspan x="1928.5" dy="8">with involved</tspan><tspan x="1928.5" dy="8">faculties</tspan></text></g>
<g id="n-signreturn"><rect class="a" x="1988" y="1242" width="95" height="19" rx="9.5"/><text class="t" x="2035.5" y="1250">Sign and return to<tspan x="2035.5" dy="8">Academic Quality</tspan></text></g>

<g id="objects">
<g id="o1"><rect class="ob" x="79" y="79" width="70" height="35"/><text class="t" x="114" y="88">«document»</text></g>
<g id="o2"><rect class="ob" x="88" y="126" width="61" height="27"/><text class="t" x="118.5" y="135">«document»</text></g>
<g id="o3"><rect class="ob" x="88" y="164" width="63" height="28"/><text class="t" x="119.5" y="173">«document»</text></g>
<g id="o4"><rect class="ob" x="88" y="199" width="55" height="37"/><text class="t" x="115.5" y="208">«document»</text></g>
<g id="o5"><rect class="ob" x="83" y="393" width="70" height="26"/><text class="t u" x="118" y="401.5">NPP1 Approval In<tspan x="118" dy="8">Principle</tspan></text></g>
<g id="o6"><rect class="ob" x="88" y="573" width="65" height="20"/><text class="t u" x="120.5" y="582">UCAS form</text></g>
<g id="o7"><rect class="ob" x="103" y="612" width="45" height="20"/><text class="t u" x="125.5" y="621">UCAS form</text></g>
<g id="o8"><rect class="ob" x="68" y="670" width="87" height="35"/><text class="t u" x="111.5" y="679.5">«Guideline Document»<tspan x="111.5" dy="8">Guidelines for New</tspan><tspan x="111.5" dy="7.5">Programme Approval</tspan></text></g>
<g id="o9"><rect class="ob" x="558" y="643" width="70" height="35"/><text class="t" x="593" y="652">«document»</text></g>
<g id="o10"><rect class="ob" x="551" y="168" width="82" height="28"/><text class="t u" x="592" y="177">NPP1 Approval In<tspan x="592" dy="8">Principle</tspan></text></g>
<g id="o11"><rect class="ob" x="1038" y="667" width="67" height="42"/><text class="t u" x="1071.5" y="676">NPP1 Approval<tspan x="1071.5" dy="8">In Principle</tspan></text></g>
<g id="o12"><rect class="ob" x="799" y="748" width="77" height="26"/><text class="t u" x="837.5" y="757.5">NPP1 Approval In<tspan x="837.5" dy="8">Principle</tspan></text></g>
<g id="o13"><rect class="ob" x="802" y="848" width="82" height="27"/><text class="t u" x="843" y="857">NPP1 Approval In<tspan x="843" dy="8">Principle</tspan></text></g>
<g id="o14"><rect class="ob" x="1366" y="787" width="82" height="26"/><text class="t u" x="1407" y="796">NPP1 Approval In<tspan x="1407" dy="8">Principle</tspan></text></g>
<g id="o15"><rect class="ob" x="1366" y="837" width="70" height="26"/><text class="t u" x="1401" y="846">NPP1 Approval In<tspan x="1401" dy="8">Principle</tspan></text></g>
<g id="o16"><rect class="ob" x="524" y="1142" width="92" height="26"/><text class="t u" x="570" y="1150.5">NPP2 Approval of<tspan x="570" dy="8">Programme Content</tspan></text></g>
<g id="o17"><rect class="ob" x="802" y="1285" width="79" height="27"/><text class="t u" x="841.5" y="1294">NPP2 Approval of<tspan x="841.5" dy="8">Programme Content</tspan></text></g>
<g id="o18"><rect class="ob" x="1393" y="1142" width="79" height="27"/><text class="t u" x="1432.5" y="1151">NPP2 Approval of<tspan x="1432.5" dy="8">Programme Content</tspan></text></g>
<g id="o19"><rect class="ob" x="1378" y="1285" width="78" height="27"/><text class="t u" x="1417" y="1294">NPP2 Approval of<tspan x="1417" dy="8">Programme Content</tspan></text></g>
<g id="o20"><rect class="ob" x="1374" y="1327" width="81" height="27"/><text class="t u" x="1414.5" y="1336">NPP2 Approval of<tspan x="1414.5" dy="8">Programme Content</tspan></text></g>
<g id="o21"><rect class="ob" x="1722" y="1018" width="81" height="28"/><text class="t u" x="1762.5" y="1027">NPP2 Approval of<tspan x="1762.5" dy="8">Programme Content</tspan></text></g>
<g id="o22"><rect class="ob" x="1730" y="1273" width="76" height="27"/><text class="t u" x="1768" y="1282">NPP2 Approval of<tspan x="1768" dy="8">Programme Content</tspan></text></g>
<g id="o23"><rect class="ob" x="164" y="1389" width="80" height="22"/><text class="t u" x="204" y="1398">NPP2 Approval of<tspan x="204" dy="7.5">Programme Content</tspan></text></g>
<g id="o24"><rect class="ob" x="64" y="1184" width="71" height="27"/><text class="t" x="99.5" y="1193">«document»</text></g>
</g>

<g id="notes">
<g id="N1"><path class="no" d="M273,6h86l6,6v28h-92z m86,0v6h6"/><text class="tl" x="277" y="14.5">{Programme proposer<tspan x="277" dy="7.8">may be a team. There</tspan><tspan x="277" dy="7.8">will be one named</tspan><tspan x="277" dy="7.8">responsible person.}</tspan></text></g>
<g id="N2"><path class="np" d="M400,48h77l6,6v19h-83z m77,0v6h6"/><text class="tl" x="404" y="56.5">New partner<tspan x="404" dy="7.8">institutions involved?</tspan></text></g>
<g id="N3"><path class="np" d="M238,288h71l6,6v34h-77z m71,0v6h6"/><text class="tl" x="242" y="297">Staffing,<tspan x="242" dy="7.8">equipment,</tspan><tspan x="242" dy="7.8">financial and</tspan><tspan x="242" dy="7.8">physical resources?</tspan></text></g>
<g id="N4"><path class="np" d="M420,284h57l6,6v31h-63z m57,0v6h6"/><text class="tl" x="424" y="293">Are library and<tspan x="424" dy="7.8">information</tspan><tspan x="424" dy="7.8">resources</tspan><tspan x="424" dy="7.8">required?</tspan></text></g>
<g id="N5"><path class="np" d="M246,349h53l6,6v22h-59z m53,0v6h6"/><text class="tl" x="250" y="358">Assistance<tspan x="250" dy="7.8">required from</tspan><tspan x="250" dy="7.8">accounting?</tspan></text></g>
<g id="N6"><path class="no" d="M435,408h80l6,6v21h-86z m80,0v6h6"/><text class="tl" x="439" y="416.5">{May get advice from<tspan x="439" dy="7.8">the Planning and</tspan><tspan x="439" dy="7.8">Support Office}</tspan></text></g>
<g id="N7"><path class="np" d="M176,384h37l6,6v29h-43z m37,0v6h6"/><text class="tl" x="180" y="393">Other<tspan x="180" dy="7.8">schools</tspan><tspan x="180" dy="7.8">involved?</tspan></text></g>
<g id="N8"><path class="no" d="M451,458h68l6,6v22h-74z m68,0v6h6"/><text class="tl" x="455" y="466.5">{Should not be a<tspan x="455" dy="7.8">current external</tspan><tspan x="455" dy="7.8">examiner}</tspan></text></g>
<g id="N9"><path class="np" d="M327,488h57l6,6v16h-63z m57,0v6h6"/><text class="tl" x="331" y="496.5">Is<tspan x="331" dy="7.8">Postgraduate?</tspan></text></g>
<g id="N10"><path class="no" d="M451,497h72l6,6v28h-78z m72,0v6h6"/><text class="tl" x="455" y="505.5">{Requires faculty<tspan x="455" dy="7.8">approval. Should be</tspan><tspan x="455" dy="7.8">signed off by the</tspan><tspan x="455" dy="7.8">Associate Dean }</tspan></text></g>
<g id="N11"><path class="no" d="M454,543h68l6,6v20h-74z m68,0v6h6"/><text class="tl" x="458" y="551.5">{Get views on the<tspan x="458" dy="7.8">strategic fit of the</tspan><tspan x="458" dy="7.8">programme}</tspan></text></g>
<g id="N12"><path class="no" d="M420,628h86l6,6v21h-92z m86,0v6h6"/><text class="tl" x="424" y="636.5">{Get oral guidance<tspan x="424" dy="7.8">from the Recruitment</tspan><tspan x="424" dy="7.8">and Admissions Office}</tspan></text></g>
<g id="N13"><path class="no" d="M416,721h54l6,6v15h-60z m54,0v6h6"/><text class="tl" x="420" y="729.5">{Can be by<tspan x="420" dy="7.8">chair's action}</tspan></text></g>
<g id="N14"><path class="no" d="M752,338h86l6,6v15h-92z m86,0v6h6"/><text class="tl" x="756" y="346.5">{Should discuss with<tspan x="756" dy="7.8">the faculty librarian}</tspan></text></g>
<g id="N15"><path class="np" d="M180,887h35l6,6v30h-41z m35,0v6h6"/><text class="tl" x="184" y="895">Is there<tspan x="184" dy="7.8">a school</tspan><tspan x="184" dy="7.8">plan for</tspan><tspan x="184" dy="7.8">this?</tspan></text></g>
<g id="N16"><path class="np" d="M342,1011h67l6,6v15h-73z m67,0v6h6"/><text class="tl" x="346" y="1019.5">Advice or review<tspan x="346" dy="7.8">required?</tspan></text></g>
<g id="N17"><path class="np" d="M354,1092h64l6,6v14h-70z m64,0v6h6"/><text class="tl" x="358" y="1100">Advice or review<tspan x="358" dy="7.8">required?</tspan></text></g>
<g id="N18"><path class="np" d="M381,1161h53l6,6v15h-59z m53,0v6h6"/><text class="tl" x="385" y="1169.5">Other schools<tspan x="385" dy="7.8">involved?</tspan></text></g>
<g id="N19"><path class="no" d="M354,1339h86l6,6v20h-92z m86,0v6h6"/><text class="tl" x="358" y="1347.5">{Rules for processing a<tspan x="358" dy="7.8">previously rejected</tspan><tspan x="358" dy="7.8">proposal?}</tspan></text></g>
<g id="N20"><path class="np" d="M675,774h48l6,6v22h-54z m48,0v6h6"/><text class="tl" x="679" y="782.5">Approve<tspan x="679" dy="7.8">Programme</tspan><tspan x="679" dy="7.8">in Principle?</tspan></text></g>
<g id="N21"><path class="np" d="M713,1188h55l6,6v24h-61z m55,0v6h6"/><text class="tl" x="717" y="1196.5">Committee to<tspan x="717" dy="7.8">review or</tspan><tspan x="717" dy="7.8">chair's action?</tspan></text></g>
<g id="N22"><path class="np" d="M702,1297h40l6,6v14h-46z m40,0v6h6"/><text class="tl" x="706" y="1306">Approved?</text></g>
<g id="N23"><path class="no" d="M790,1130h87l6,6v29h-93z m87,0v6h6"/><text class="tl" x="794" y="1138.5">{Can be by chair's<tspan x="794" dy="7.8">action with</tspan><tspan x="794" dy="7.8">consultation with</tspan><tspan x="794" dy="7.8">internal advisers}</tspan></text></g>
<g id="N24"><path class="np" d="M1251,729h75l6,6v31h-81z m75,0v6h6"/><text class="tl" x="1255" y="737.5">Approve in principle<tspan x="1255" dy="7.8">or reject on grounds</tspan><tspan x="1255" dy="7.8">of strategic or</tspan><tspan x="1255" dy="7.8">resource issues.</tspan></text></g>
<g id="N25"><path class="np" d="M1214,806h56l6,6v20h-62z m56,0v6h6"/><text class="tl" x="1218" y="814">Can a revised<tspan x="1218" dy="7.8">proposal be</tspan><tspan x="1218" dy="7.8">submitted?</tspan></text></g>
<g id="N26"><path class="no" d="M1223,933h87l6,6v52h-93z m87,0v6h6"/><text class="tl" x="1227" y="941.5">{Internal advisers must<tspan x="1227" dy="7.8">be members of the</tspan><tspan x="1227" dy="7.8">Faculty in which the</tspan><tspan x="1227" dy="7.8">programme will be</tspan><tspan x="1227" dy="7.8">based but must not be</tspan><tspan x="1227" dy="7.8">members of the home</tspan><tspan x="1227" dy="7.8">school.}</tspan></text></g>
<g id="N27"><path class="no" d="M1228,1076h112l6,6v48h-118z m112,0v6h6"/><text class="tl" x="1232" y="1084.5">{Faculty Committee is chaired<tspan x="1232" dy="7.8">by the Associate Dean and</tspan><tspan x="1232" dy="7.8">should invite (if not members):</tspan><tspan x="1232" dy="7.8">Programme Director</tspan><tspan x="1232" dy="7.8">(designate) ,Head of School</tspan><tspan x="1232" dy="7.8">and the two internal advisors}</tspan></text></g>
<g id="N28"><path class="no" d="M1254,1146h84l6,6v20h-90z m84,0v6h6"/><text class="tl" x="1258" y="1154.5">{A member of the<tspan x="1258" dy="7.8">Academic Quality staff</tspan><tspan x="1258" dy="7.8">will attend (future)}</tspan></text></g>
<g id="N29"><path class="np" d="M1248,1227h42l6,6v15h-48z m42,0v6h6"/><text class="tl" x="1252" y="1236">approved?</text></g>
<g id="N30"><path class="no" d="M1358,655h100l6,6v46h-106z m100,0v6h6"/><text class="tl" x="1362" y="663.5">{Faculty Committee is<tspan x="1362" dy="7.8">chaired by the Associate</tspan><tspan x="1362" dy="7.8">Dean and should invite (if</tspan><tspan x="1362" dy="7.8">not members): Programme</tspan><tspan x="1362" dy="7.8">Director (designate) and</tspan><tspan x="1362" dy="7.8">Head of School}</tspan></text></g>
<g id="N31"><path class="no" d="M1366,729h86l6,6v20h-92z m86,0v6h6"/><text class="tl" x="1370" y="737.5">{A member of the<tspan x="1370" dy="7.8">Academic Quality staff</tspan><tspan x="1370" dy="7.8">will attend (future)}</tspan></text></g>
<g id="N32"><path class="no" d="M1385,1076h82l6,6v19h-88z m82,0v6h6"/><text class="tl" x="1389" y="1084.5">{For each programme<tspan x="1389" dy="7.8">- add to list}</tspan></text></g>
<g id="N33"><path class="no" d="M1366,1212h86l6,6v36h-92z m86,0v6h6"/><text class="tl" x="1370" y="1220.5">{The rejected proposal<tspan x="1370" dy="7.8">must be modified and</tspan><tspan x="1370" dy="7.8">resubmitted since the</tspan><tspan x="1370" dy="7.8">programme has already</tspan><tspan x="1370" dy="7.8">been advertised}</tspan></text></g>
<g id="N34"><path class="no" d="M1722,1064h38l6,6v15h-44z m38,0v6h6"/><text class="tl" x="1726" y="1072.5">{Monthly<tspan x="1726" dy="7.8">report}</tspan></text></g>
<g id="N35"><path class="no" d="M1722,1092h106l6,6v54h-112z m106,0v6h6"/><text class="tl" x="1726" y="1100.5">{Send to: Faculty Quality<tspan x="1726" dy="7.8">Administrator, Head of</tspan><tspan x="1726" dy="7.8">School, Head of Student</tspan><tspan x="1726" dy="7.8">Records Section, Head of</tspan><tspan x="1726" dy="7.8">Recruitment and Admissions,</tspan><tspan x="1726" dy="7.8">Head of Graduate Education</tspan><tspan x="1726" dy="7.8">(PG taught)}</tspan></text></g>
<g id="N36"><path class="no" d="M1722,1161h57l6,6v15h-63z m57,0v6h6"/><text class="tl" x="1726" y="1169.5">{Hard copy<tspan x="1726" dy="7.8">and email}</tspan></text></g>
<g id="N37"><path class="np" d="M1969,1053h30l6,6v15h-36z m30,0v6h6"/><text class="tl" x="1973" y="1062">ratify?</text></g>
<g id="N38"><path class="np" d="M1849,1092h40l6,6v14h-46z m40,0v6h6"/><text class="tl" x="1853" y="1100">Policy<tspan x="1853" dy="7.8">issues?</tspan></text></g>
<g id="N39"><path class="np" d="M1846,1172h61l6,6v15h-67z m61,0v6h6"/><text class="tl" x="1850" y="1180.5">Any impact on<tspan x="1850" dy="7.8">other faculties?</tspan></text></g>
</g>
</svg>
